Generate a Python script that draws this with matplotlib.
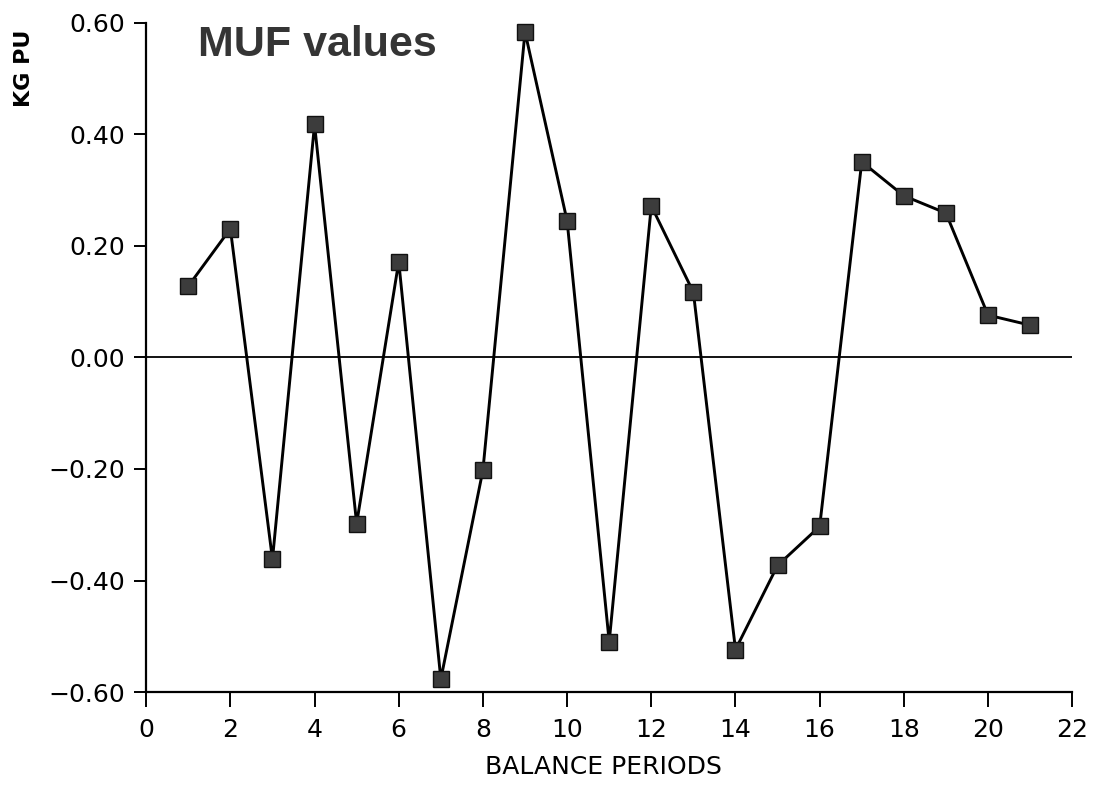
import numpy as np
import matplotlib
matplotlib.use("Agg")
import matplotlib.pyplot as plt

# MUF per balance period
periods = np.arange(1, 22)
muf_kg = [0.128, 0.231, -0.362, 0.418, -0.298, 0.172, -0.577, -0.202, 0.584, 0.245,
          -0.510, 0.272, 0.117, -0.524, -0.373, -0.303, 0.351, 0.290, 0.259, 0.076, 0.058]

x_ticks = list(range(0, 23, 2))
y_ticks = [-0.6, -0.4, -0.2, 0.0, 0.2, 0.4, 0.6]

plt.rcParams['font.family'] = ['DejaVu Sans']

fig = plt.figure(figsize=(10.95, 7.87), dpi=100)
ax = fig.add_axes([0.1335, 0.1207, 0.8457, 0.8501])

ax.axhline(0, color='black', lw=1.3, zorder=1)
ax.plot(periods, muf_kg, color='black', lw=2.1, marker='s', markersize=11.5,
        markerfacecolor='#3c3c3c', markeredgecolor='#111111', markeredgewidth=1.0,
        zorder=3, clip_on=False)

ax.set_xlim(0, 22)
ax.set_ylim(-0.6, 0.6)
ax.set_xticks(x_ticks)
ax.set_yticks(y_ticks)
ax.set_yticklabels([f"{v:.2f}".replace("-", "\u2212") for v in y_ticks])

for side in ('top', 'right'):
    ax.spines[side].set_visible(False)
for side in ('left', 'bottom'):
    ax.spines[side].set_linewidth(1.6)

ax.tick_params(axis='y', direction='out', length=9, width=1.4, labelsize=18, pad=6)
ax.tick_params(axis='x', direction='out', length=11, width=1.4, labelsize=18, pad=8)

ax.text(0.056, 0.997, "MUF values", transform=ax.transAxes, ha='left', va='top',
        fontsize=31, fontweight='bold', color='#353535', family='Liberation Sans')

fig.text(0.022, 1 - 68 / 787, "KG PU", rotation=90, ha='center', va='center',
         fontsize=16, fontweight='bold')
fig.text(0.551, 1 - 767 / 787, "BALANCE PERIODS", ha='center', va='center',
         fontsize=18)

fig.savefig("out.png", dpi=100)
